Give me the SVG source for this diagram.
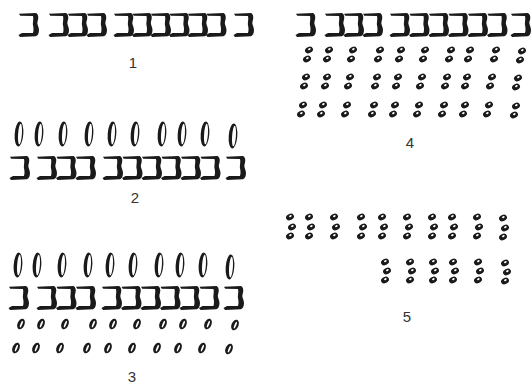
<svg xmlns="http://www.w3.org/2000/svg" xmlns:xlink="http://www.w3.org/1999/xlink" width="531" height="386" viewBox="0 0 531 386">
<style>
.lbl{font-family:"Liberation Sans",Arial,sans-serif;font-size:15px;fill:#333;text-anchor:middle}
</style>
<defs>
<path id="br" d="M0,0.8 L17,0 C20.2,2 19.4,6 18.4,9 C17.8,11 20,14 20,17 C20,20.5 18.8,22.6 16.8,23.3 L1,23.9 L-0.5,22 L3,19.9 L13.9,19.9 C14.9,18 14.5,14 14,12.2 C13.5,10 14.9,5.5 13.9,3.1 L1.2,2.7 Z" fill="#1a1a1a"/>
<g id="el"><ellipse cx="0" cy="0" rx="4.3" ry="12.5" fill="#1a1a1a" transform="rotate(4)"/><ellipse cx="1" cy="0" rx="1.9" ry="10.3" fill="#fff" transform="rotate(4)"/></g>
<g id="oo"><ellipse cx="0" cy="0" rx="3.5" ry="5.6" fill="#1a1a1a" transform="rotate(22)"/><ellipse cx="0.4" cy="0" rx="0.9" ry="3.5" fill="#fff" transform="rotate(22)"/></g>
<g id="dt"><ellipse cx="0" cy="0" rx="4.1" ry="3.1" fill="#1a1a1a" transform="rotate(-25)"/><ellipse cx="0.7" cy="-0.6" rx="1.4" ry="0.9" fill="#fff" transform="rotate(-25)"/></g>
</defs>
<g id="panel1">
<use href="#br" x="19" y="13"/>
<use href="#br" x="49" y="13"/><use href="#br" x="68" y="13"/><use href="#br" x="87" y="13"/>
<use href="#br" x="114" y="13"/><use href="#br" x="132.5" y="13"/><use href="#br" x="151" y="13"/><use href="#br" x="169.5" y="13"/><use href="#br" x="188" y="13"/><use href="#br" x="206.5" y="13"/>
<use href="#br" x="234" y="13"/>
<text class="lbl" x="133" y="68">1</text>
</g>
<g id="panel2">
<use href="#el" x="19" y="134"/><use href="#el" x="39" y="134"/><use href="#el" x="63" y="134"/><use href="#el" x="89" y="134"/><use href="#el" x="112" y="134"/><use href="#el" x="135" y="134"/><use href="#el" x="162" y="134"/><use href="#el" x="182" y="134"/><use href="#el" x="205" y="134"/><use href="#el" x="233" y="136"/>
<use href="#br" x="10" y="156"/>
<use href="#br" x="37" y="156"/><use href="#br" x="56.5" y="156"/><use href="#br" x="76" y="156"/>
<use href="#br" x="103" y="156"/><use href="#br" x="122.5" y="156"/><use href="#br" x="142" y="156"/><use href="#br" x="161.5" y="156"/><use href="#br" x="181" y="156"/><use href="#br" x="200.5" y="156"/>
<use href="#br" x="226" y="156"/>
<text class="lbl" x="135" y="203">2</text>
</g>
<g id="panel3">
<use href="#el" x="18" y="265"/><use href="#el" x="37" y="265"/><use href="#el" x="62" y="265"/><use href="#el" x="88" y="265"/><use href="#el" x="110" y="265"/><use href="#el" x="133" y="265"/><use href="#el" x="159" y="265"/><use href="#el" x="180" y="265"/><use href="#el" x="203" y="265"/><use href="#el" x="230" y="267"/>
<use href="#br" x="9" y="286"/>
<use href="#br" x="37" y="286"/><use href="#br" x="56.5" y="286"/><use href="#br" x="76" y="286"/>
<use href="#br" x="102" y="286"/><use href="#br" x="121.5" y="286"/><use href="#br" x="141" y="286"/><use href="#br" x="160.5" y="286"/><use href="#br" x="180" y="286"/><use href="#br" x="199.5" y="286"/>
<use href="#br" x="224" y="286"/>
<use href="#oo" x="21" y="324"/><use href="#oo" x="41" y="324"/><use href="#oo" x="65" y="324"/><use href="#oo" x="93" y="324"/><use href="#oo" x="113" y="324"/><use href="#oo" x="137" y="324"/><use href="#oo" x="163" y="324"/><use href="#oo" x="183" y="324"/><use href="#oo" x="208" y="324"/><use href="#oo" x="235" y="325"/>
<use href="#oo" x="16" y="348"/><use href="#oo" x="36" y="348"/><use href="#oo" x="60" y="348"/><use href="#oo" x="87" y="348"/><use href="#oo" x="108" y="348"/><use href="#oo" x="132" y="348"/><use href="#oo" x="157" y="348"/><use href="#oo" x="178" y="348"/><use href="#oo" x="202" y="348"/><use href="#oo" x="229" y="349"/>
<text class="lbl" x="132" y="382">3</text>
</g>
<g id="panel4">
<use href="#br" x="296" y="13"/>
<use href="#br" x="325" y="13"/><use href="#br" x="344" y="13"/><use href="#br" x="363" y="13"/>
<use href="#br" x="390" y="13"/><use href="#br" x="409.5" y="13"/><use href="#br" x="429" y="13"/><use href="#br" x="448.5" y="13"/><use href="#br" x="468" y="13"/><use href="#br" x="487.5" y="13"/>
<use href="#br" x="511" y="13"/>
<g id="r4a">
<use href="#dt" x="309" y="50"/><use href="#dt" x="329" y="50"/><use href="#dt" x="353" y="50"/><use href="#dt" x="380" y="50"/><use href="#dt" x="401" y="50"/><use href="#dt" x="425" y="50"/><use href="#dt" x="451" y="50"/><use href="#dt" x="470" y="50"/><use href="#dt" x="496" y="50"/><use href="#dt" x="522" y="51"/>
<use href="#dt" x="307" y="59"/><use href="#dt" x="327" y="59"/><use href="#dt" x="351" y="59"/><use href="#dt" x="378" y="59"/><use href="#dt" x="399" y="59"/><use href="#dt" x="423" y="59"/><use href="#dt" x="449" y="59"/><use href="#dt" x="468" y="59"/><use href="#dt" x="494" y="59"/><use href="#dt" x="520" y="60"/>
</g>
<g id="r4b">
<use href="#dt" x="306" y="77"/><use href="#dt" x="327" y="77"/><use href="#dt" x="350" y="77"/><use href="#dt" x="377" y="77"/><use href="#dt" x="398" y="77"/><use href="#dt" x="422" y="77"/><use href="#dt" x="447" y="77"/><use href="#dt" x="467" y="77"/><use href="#dt" x="492" y="77"/><use href="#dt" x="518" y="78"/>
<use href="#dt" x="304" y="86"/><use href="#dt" x="325" y="86"/><use href="#dt" x="348" y="86"/><use href="#dt" x="375" y="86"/><use href="#dt" x="396" y="86"/><use href="#dt" x="420" y="86"/><use href="#dt" x="445" y="86"/><use href="#dt" x="465" y="86"/><use href="#dt" x="490" y="86"/><use href="#dt" x="516" y="87"/>
</g>
<g id="r4c">
<use href="#dt" x="303" y="105"/><use href="#dt" x="323" y="105"/><use href="#dt" x="347" y="105"/><use href="#dt" x="374" y="105"/><use href="#dt" x="395" y="105"/><use href="#dt" x="419" y="105"/><use href="#dt" x="444" y="105"/><use href="#dt" x="465" y="105"/><use href="#dt" x="489" y="105"/><use href="#dt" x="516" y="106"/>
<use href="#dt" x="301" y="114"/><use href="#dt" x="321" y="114"/><use href="#dt" x="345" y="114"/><use href="#dt" x="372" y="114"/><use href="#dt" x="393" y="114"/><use href="#dt" x="417" y="114"/><use href="#dt" x="442" y="114"/><use href="#dt" x="463" y="114"/><use href="#dt" x="487" y="114"/><use href="#dt" x="514" y="115"/>
</g>
<text class="lbl" x="410" y="148">4</text>
</g>
<g id="panel5">
<g id="r5a">
<use href="#dt" x="290" y="217"/><use href="#dt" x="309" y="217"/><use href="#dt" x="334" y="217"/><use href="#dt" x="361" y="217"/><use href="#dt" x="382" y="217"/><use href="#dt" x="407" y="217"/><use href="#dt" x="432" y="217"/><use href="#dt" x="452" y="217"/><use href="#dt" x="477" y="217"/><use href="#dt" x="503" y="218"/>
<use href="#dt" x="292" y="227"/><use href="#dt" x="311" y="227"/><use href="#dt" x="336" y="227"/><use href="#dt" x="363" y="227"/><use href="#dt" x="384" y="227"/><use href="#dt" x="409" y="227"/><use href="#dt" x="434" y="227"/><use href="#dt" x="454" y="227"/><use href="#dt" x="479" y="227"/><use href="#dt" x="505" y="228"/>
<use href="#dt" x="290" y="236"/><use href="#dt" x="309" y="236"/><use href="#dt" x="334" y="236"/><use href="#dt" x="361" y="236"/><use href="#dt" x="382" y="236"/><use href="#dt" x="407" y="236"/><use href="#dt" x="432" y="236"/><use href="#dt" x="452" y="236"/><use href="#dt" x="477" y="236"/><use href="#dt" x="503" y="237"/>
</g>
<g id="r5b">
<use href="#dt" x="385" y="262"/><use href="#dt" x="410" y="262"/><use href="#dt" x="433" y="262"/><use href="#dt" x="453" y="262"/><use href="#dt" x="478" y="262"/><use href="#dt" x="505" y="263"/>
<use href="#dt" x="387" y="271"/><use href="#dt" x="412" y="271"/><use href="#dt" x="435" y="271"/><use href="#dt" x="455" y="271"/><use href="#dt" x="480" y="271"/><use href="#dt" x="507" y="272"/>
<use href="#dt" x="385" y="280"/><use href="#dt" x="410" y="280"/><use href="#dt" x="433" y="280"/><use href="#dt" x="453" y="280"/><use href="#dt" x="478" y="280"/><use href="#dt" x="505" y="281"/>
</g>
<text class="lbl" x="407" y="322">5</text>
</g>
</svg>
